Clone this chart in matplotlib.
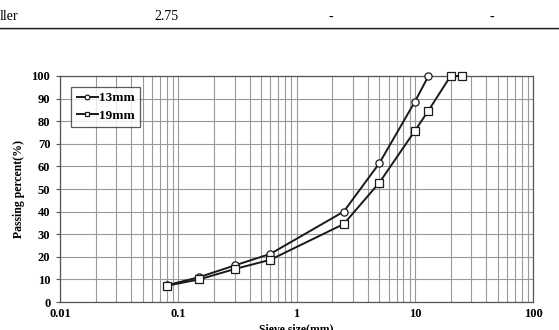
import matplotlib
matplotlib.use("Agg")
import matplotlib.pyplot as plt
from matplotlib.lines import Line2D
from matplotlib.ticker import FixedLocator, FixedFormatter, NullFormatter, LogLocator

sizes_13 = [0.08, 0.15, 0.3, 0.6, 2.5, 5, 10, 13]
pass_13 = [7.4, 11, 16.2, 21.3, 40, 61.4, 88.7, 100]
sizes_19 = [0.08, 0.15, 0.3, 0.6, 2.5, 5, 10, 13, 20, 25]
pass_19 = [7.2, 10, 14.6, 18.7, 34.5, 52.8, 75.8, 84.7, 100, 100]
x_ticks = [0.01, 0.1, 1, 10, 100]
x_labels = ["0.01", "0.1", "1", "10", "100"]
y_ticks = list(range(0, 101, 10))
table_row = ["ller", "2.75", "-", "-"]

plt.rcParams['font.family'] = ['Liberation Serif', 'DejaVu Serif']

fig = plt.figure(figsize=(5.59, 3.30), dpi=100)
ax = fig.add_axes([0.1073, 0.0848, 0.954 - 0.1073, 0.7697 - 0.0848])

ax.set_xscale('log')
ax.set_xlim(0.01, 100)
ax.set_ylim(0, 100)

ax.plot(sizes_13, pass_13, color='#1a1a1a', lw=1.4, marker='o', ms=5.2,
        mfc='white', mec='#1a1a1a', mew=0.9, label='13mm', zorder=3, clip_on=False)
ax.plot(sizes_19, pass_19, color='#1a1a1a', lw=1.4, marker='s', ms=5.4,
        mfc='white', mec='#1a1a1a', mew=0.9, label='19mm', zorder=3, clip_on=False)

ax.xaxis.set_major_locator(FixedLocator(x_ticks))
ax.xaxis.set_major_formatter(FixedFormatter(x_labels))
ax.xaxis.set_minor_locator(LogLocator(base=10, subs=range(2, 10)))
ax.xaxis.set_minor_formatter(NullFormatter())
ax.set_yticks(y_ticks)

ax.grid(which='major', color='#999999', lw=0.8)
ax.grid(which='minor', axis='x', color='#999999', lw=0.8)
ax.set_axisbelow(True)
for s in ax.spines.values():
    s.set_color('#555555')
    s.set_linewidth(0.9)
ax.tick_params(which='both', length=0, pad=4)
ax.tick_params(axis='y', length=3, color='#555555')
for lab in ax.get_xticklabels() + ax.get_yticklabels():
    lab.set_fontweight('bold')
    lab.set_fontsize(9)

ax.set_ylabel('Passing percent(%)', fontsize=8.5, fontweight='bold', labelpad=5)
ax.set_xlabel('Sieve size(mm)', fontsize=8.5, fontweight='bold', labelpad=3)

leg = ax.legend(loc='upper left', bbox_to_anchor=(0.024, 0.952), frameon=True,
                fancybox=False, edgecolor='#333333',
                prop={'weight': 'bold', 'size': 9.5}, handlelength=1.6,
                handletextpad=0.1, borderpad=0.4, labelspacing=0.4,
                markerscale=0.65, borderaxespad=0)
leg.get_frame().set_linewidth(0.9)

# table fragment at top
fig.text(0.0, 1 - 17 / 330, table_row[0], fontsize=10, va='center', ha='left')
fig.text(166 / 559, 1 - 17 / 330, table_row[1], fontsize=10, va='center', ha='center')
fig.text(331 / 559, 1 - 17 / 330, table_row[2], fontsize=10, va='center', ha='center')
fig.text(492 / 559, 1 - 17 / 330, table_row[3], fontsize=10, va='center', ha='center')
fig.add_artist(Line2D([0, 1], [1 - 27.5 / 330, 1 - 27.5 / 330], color='#222222', lw=1.0,
                      transform=fig.transFigure))
fig.add_artist(Line2D([0, 1], [1 - 29 / 330, 1 - 29 / 330], color='#aaaaaa', lw=0.6,
                      transform=fig.transFigure))

fig.savefig('out.png', dpi=100)
